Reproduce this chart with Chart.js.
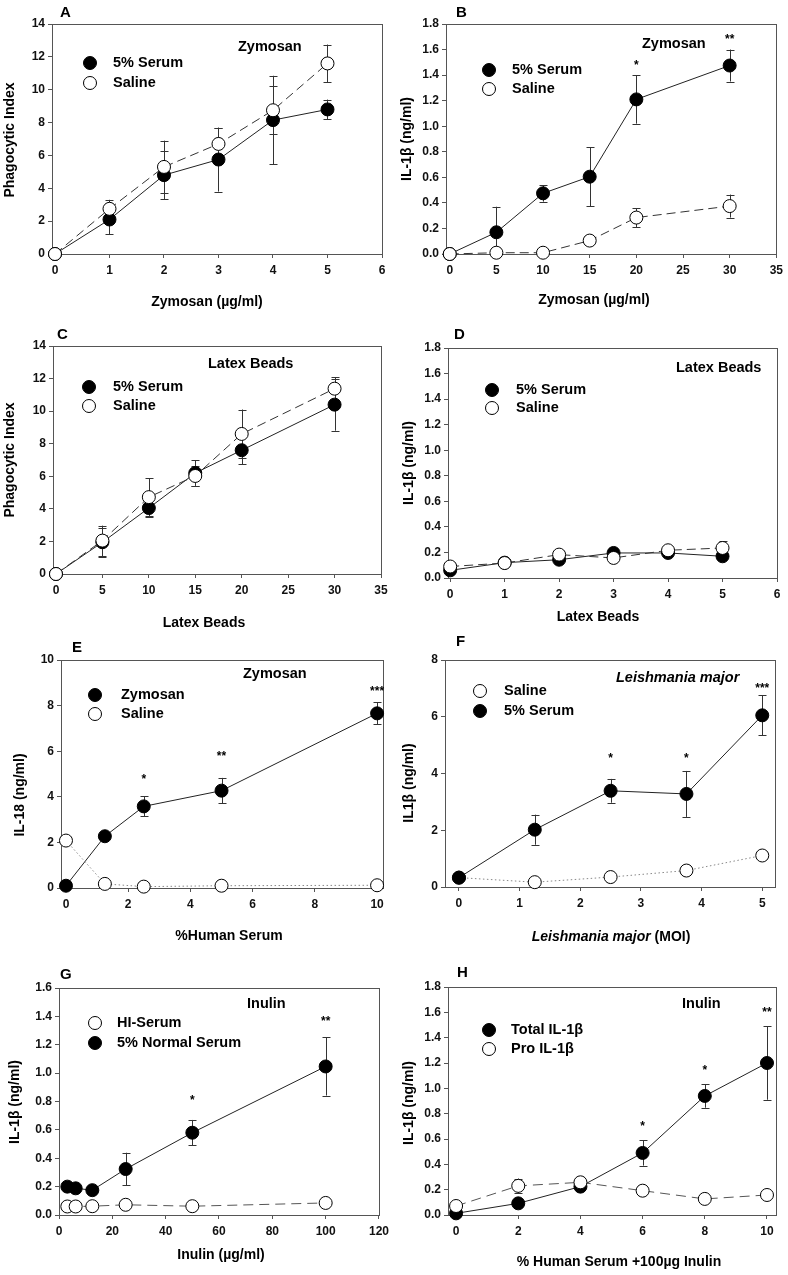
<!DOCTYPE html>
<html><head><meta charset="utf-8">
<script src="https://cdn.jsdelivr.net/npm/chart.js@4.4.0/dist/chart.umd.min.js"></script>
<style>
html,body{margin:0;padding:0;background:#fff;}
body{width:788px;height:1275px;position:relative;overflow:hidden;}
canvas{position:absolute;}
</style></head><body>
<canvas id="cA"></canvas><canvas id="cB"></canvas>
<canvas id="cC"></canvas><canvas id="cD"></canvas>
<canvas id="cE"></canvas><canvas id="cF"></canvas>
<canvas id="cG"></canvas><canvas id="cH"></canvas>
<script>
// ---------------- DATA ----------------
// Panel A
const A_x = [0, 1, 2, 3, 4, 5];
const A_serum = [0, 2.1, 4.8, 5.75, 8.15, 8.8];
const A_serumErr = [0, 0.9, 1.45, 1.95, 2.7, 0.6];
const A_saline = [0, 2.75, 5.3, 6.7, 8.75, 11.6];
const A_salineErr = [0, 0.55, 1.6, 0.95, 1.45, 1.15];
const A_xTicks = [0, 1, 2, 3, 4, 5, 6];
const A_xLabels = ['0', '1', '2', '3', '4', '5', '6'];
const A_yTicks = [0, 2, 4, 6, 8, 10, 12, 14];
const A_yLabels = ['0', '2', '4', '6', '8', '10', '12', '14'];
// Panel B
const B_x = [0, 5, 10, 15, 20, 30];
const B_serum = [0, 0.17, 0.475, 0.605, 1.21, 1.475];
const B_serumErr = [0, 0.2, 0.065, 0.23, 0.19, 0.125];
const B_saline = [0, 0.01, 0.01, 0.105, 0.285, 0.375];
const B_salineErr = [0, 0, 0, 0.02, 0.075, 0.09];
const B_stars = [{x: 20, y: 1.5, t: '*'}, {x: 30, y: 1.71, t: '**'}];
const B_xTicks = [0, 5, 10, 15, 20, 25, 30, 35];
const B_xLabels = ['0', '5', '10', '15', '20', '25', '30', '35'];
const B_yTicks = [0, 0.2, 0.4, 0.6, 0.8, 1.0, 1.2, 1.4, 1.6, 1.8];
const B_yLabels = ['0.0', '0.2', '0.4', '0.6', '0.8', '1.0', '1.2', '1.4', '1.6', '1.8'];
// Panel C
const C_x = [0, 5, 10, 15, 20, 30];
const C_serum = [0, 1.95, 4.05, 6.2, 7.6, 10.4];
const C_serumErr = [0, 0.9, 0.57, 0.78, 0.85, 1.6];
const C_saline = [0, 2.05, 4.72, 6.02, 8.6, 11.38];
const C_salineErr = [0, 0.92, 1.15, 0.6, 1.5, 0.7];
const C_xTicks = [0, 5, 10, 15, 20, 25, 30, 35];
const C_xLabels = ['0', '5', '10', '15', '20', '25', '30', '35'];
const C_yTicks = [0, 2, 4, 6, 8, 10, 12, 14];
const C_yLabels = ['0', '2', '4', '6', '8', '10', '12', '14'];
// Panel D
const D_x = [0, 1, 2, 3, 4, 5];
const D_serum = [0.06, 0.12, 0.143, 0.196, 0.196, 0.17];
const D_serumErr = [0, 0, 0, 0, 0, 0];
const D_saline = [0.09, 0.117, 0.183, 0.157, 0.217, 0.235];
const D_salineErr = [0, 0, 0, 0, 0, 0.052];
const D_xTicks = [0, 1, 2, 3, 4, 5, 6];
const D_xLabels = ['0', '1', '2', '3', '4', '5', '6'];
const D_yTicks = [0, 0.2, 0.4, 0.6, 0.8, 1.0, 1.2, 1.4, 1.6, 1.8];
const D_yLabels = ['0.0', '0.2', '0.4', '0.6', '0.8', '1.0', '1.2', '1.4', '1.6', '1.8'];
// Panel E
const E_x = [0, 1.25, 2.5, 5, 10];
const E_zym = [0.1, 2.27, 3.58, 4.27, 7.66];
const E_zymErr = [0, 0.1, 0.44, 0.56, 0.48];
const E_saline = [2.08, 0.18, 0.06, 0.1, 0.12];
const E_stars = [{x: 2.5, y: 4.92, t: '*'}, {x: 5, y: 5.91, t: '**'}, {x: 10, y: 8.76, t: '***'}];
const E_xTicks = [0, 2, 4, 6, 8, 10];
const E_xLabels = ['0', '2', '4', '6', '8', '10'];
const E_yTicks = [0, 2, 4, 6, 8, 10];
const E_yLabels = ['0', '2', '4', '6', '8', '10'];
// Panel F
const F_x = [0, 1.25, 2.5, 3.75, 5];
const F_saline = [0.33, 0.17, 0.35, 0.58, 1.11];
const F_serum = [0.33, 2.02, 3.39, 3.28, 6.05];
const F_serumErr = [0, 0.53, 0.42, 0.81, 0.7];
const F_stars = [{x: 2.5, y: 4.65, t: '*'}, {x: 3.75, y: 4.65, t: '*'}, {x: 5, y: 7.12, t: '***'}];
const F_xTicks = [0, 1, 2, 3, 4, 5];
const F_xLabels = ['0', '1', '2', '3', '4', '5'];
const F_yTicks = [0, 2, 4, 6, 8];
const F_yLabels = ['0', '2', '4', '6', '8'];
// Panel G
const G_x = [3.125, 6.25, 12.5, 25, 50, 100];
const G_hi = [0.06, 0.06, 0.062, 0.072, 0.062, 0.085];
const G_normal = [0.2, 0.188, 0.175, 0.324, 0.58, 1.047];
const G_normalErr = [0, 0, 0, 0.115, 0.09, 0.205];
const G_stars = [{x: 50, y: 0.835, t: '*'}, {x: 100, y: 1.39, t: '**'}];
const G_xTicks = [0, 20, 40, 60, 80, 100, 120];
const G_xLabels = ['0', '20', '40', '60', '80', '100', '120'];
const G_yTicks = [0, 0.2, 0.4, 0.6, 0.8, 1.0, 1.2, 1.4, 1.6];
const G_yLabels = ['0.0', '0.2', '0.4', '0.6', '0.8', '1.0', '1.2', '1.4', '1.6'];
// Panel H
const H_x = [0, 2, 4, 6, 8, 10];
const H_total = [0.013, 0.092, 0.224, 0.49, 0.94, 1.2];
const H_totalErr = [0, 0, 0, 0.1, 0.093, 0.29];
const H_pro = [0.071, 0.23, 0.258, 0.192, 0.127, 0.158];
const H_proErr = [0, 0.058, 0, 0, 0, 0];
const H_stars = [{x: 6, y: 0.725, t: '*'}, {x: 8, y: 1.17, t: '*'}, {x: 10, y: 1.63, t: '**'}];
const H_xTicks = [0, 2, 4, 6, 8, 10];
const H_xLabels = ['0', '2', '4', '6', '8', '10'];
const H_yTicks = [0, 0.2, 0.4, 0.6, 0.8, 1.0, 1.2, 1.4, 1.6, 1.8];
const H_yLabels = ['0.0', '0.2', '0.4', '0.6', '0.8', '1.0', '1.2', '1.4', '1.6', '1.8'];

// ---------------- LAYOUT / STYLE ----------------
const FONT = "'Liberation Sans', Arial, Helvetica, sans-serif";
const M = 12;
const SOLID = {dash: [], color: '#222'};
const DASH = {dash: [9, 5], color: '#333'};
const DASH2 = {dash: [10, 6], color: '#555'};
const DOT = {dash: [1.5, 2.5], color: '#888'};

const panels = [
  {id: 'cA', x0: 0, y0: 0, h: 320, area: {l: 52, r: 382, t: 24, b: 254},
   xmin: -0.055, xmax: 6, ymin: 0, ymax: 14,
   xTicks: A_xTicks, xLabels: A_xLabels, yTicks: A_yTicks, yLabels: A_yLabels,
   series: [
     {label: '5% Serum', x: A_x, y: A_serum, err: A_serumErr, filled: true, style: SOLID, order: 1},
     {label: 'Saline', x: A_x, y: A_saline, err: A_salineErr, filled: false, style: DASH, order: 0}],
   letter: {t: 'A', x: 60, y: 13}, note: {t: 'Zymosan', x: 238, y: 47},
   legend: [{s: 0, mx: 90, my: 63}, {s: 1, mx: 90, my: 83}], legendTx: 113,
   yTitle: {t: 'Phagocytic Index', x: 10, y: 140},
   xTitle: {parts: [{t: 'Zymosan (µg/ml)'}], x: 207, y: 302}, stars: []},
  {id: 'cB', x0: 394, y0: 0, h: 320, area: {l: 52, r: 383, t: 24, b: 254},
   xmin: -0.4, xmax: 35, ymin: 0, ymax: 1.8,
   xTicks: B_xTicks, xLabels: B_xLabels, yTicks: B_yTicks, yLabels: B_yLabels,
   series: [
     {label: '5% Serum', x: B_x, y: B_serum, err: B_serumErr, filled: true, style: SOLID, order: 1},
     {label: 'Saline', x: B_x, y: B_saline, err: B_salineErr, filled: false, style: DASH, order: 0}],
   letter: {t: 'B', x: 62, y: 13}, note: {t: 'Zymosan', x: 248, y: 44},
   legend: [{s: 0, mx: 95, my: 70}, {s: 1, mx: 95, my: 89}], legendTx: 118,
   yTitle: {t: 'IL-1β (ng/ml)', x: 13, y: 139},
   xTitle: {parts: [{t: 'Zymosan (µg/ml)'}], x: 200, y: 300}, stars: B_stars},
  {id: 'cC', x0: 0, y0: 320, h: 320, area: {l: 53, r: 381, t: 26, b: 254},
   xmin: -0.32, xmax: 35, ymin: 0, ymax: 14,
   xTicks: C_xTicks, xLabels: C_xLabels, yTicks: C_yTicks, yLabels: C_yLabels,
   series: [
     {label: '5% Serum', x: C_x, y: C_serum, err: C_serumErr, filled: true, style: SOLID, order: 1},
     {label: 'Saline', x: C_x, y: C_saline, err: C_salineErr, filled: false, style: DASH, order: 0}],
   letter: {t: 'C', x: 57, y: 15}, note: {t: 'Latex Beads', x: 208, y: 44},
   legend: [{s: 0, mx: 89, my: 67}, {s: 1, mx: 89, my: 86}], legendTx: 113,
   yTitle: {t: 'Phagocytic Index', x: 10, y: 140},
   xTitle: {parts: [{t: 'Latex Beads'}], x: 204, y: 303}, stars: []},
  {id: 'cD', x0: 394, y0: 320, h: 320, area: {l: 54, r: 383, t: 28, b: 258},
   xmin: -0.04, xmax: 6, ymin: 0, ymax: 1.8,
   xTicks: D_xTicks, xLabels: D_xLabels, yTicks: D_yTicks, yLabels: D_yLabels,
   series: [
     {label: '5% Serum', x: D_x, y: D_serum, err: D_serumErr, filled: true, style: SOLID, order: 1},
     {label: 'Saline', x: D_x, y: D_saline, err: D_salineErr, filled: false, style: DASH, order: 0}],
   letter: {t: 'D', x: 60, y: 15}, note: {t: 'Latex Beads', x: 282, y: 48},
   legend: [{s: 0, mx: 98, my: 70}, {s: 1, mx: 98, my: 88}], legendTx: 122,
   yTitle: {t: 'IL-1β (ng/ml)', x: 15, y: 143},
   xTitle: {parts: [{t: 'Latex Beads'}], x: 204, y: 297}, stars: []},
  {id: 'cE', x0: 0, y0: 640, h: 320, area: {l: 61, r: 383, t: 20, b: 248},
   xmin: -0.16, xmax: 10.19, ymin: 0, ymax: 10,
   xTicks: E_xTicks, xLabels: E_xLabels, yTicks: E_yTicks, yLabels: E_yLabels,
   series: [
     {label: 'Zymosan', x: E_x, y: E_zym, err: E_zymErr, filled: true, style: SOLID, order: 1},
     {label: 'Saline', x: E_x, y: E_saline, err: null, filled: false, style: DOT, order: 0}],
   letter: {t: 'E', x: 72, y: 8}, note: {t: 'Zymosan', x: 243, y: 34},
   legend: [{s: 0, mx: 95, my: 55}, {s: 1, mx: 95, my: 74}], legendTx: 121,
   yTitle: {t: 'IL-18 (ng/ml)', x: 20, y: 155},
   xTitle: {parts: [{t: '%Human Serum'}], x: 229, y: 296}, stars: E_stars},
  {id: 'cF', x0: 394, y0: 640, h: 320, area: {l: 51, r: 381, t: 20, b: 247},
   xmin: -0.23, xmax: 5.21, ymin: 0, ymax: 8,
   xTicks: F_xTicks, xLabels: F_xLabels, yTicks: F_yTicks, yLabels: F_yLabels,
   series: [
     {label: 'Saline', x: F_x, y: F_saline, err: null, filled: false, style: DOT, order: 1},
     {label: '5% Serum', x: F_x, y: F_serum, err: F_serumErr, filled: true, style: SOLID, order: 0}],
   letter: {t: 'F', x: 62, y: 2}, note: {t: 'Leishmania major', x: 222, y: 38, italic: true},
   legend: [{s: 0, mx: 86, my: 51}, {s: 1, mx: 86, my: 71}], legendTx: 110,
   yTitle: {t: 'IL1β (ng/ml)', x: 15, y: 143},
   xTitle: {parts: [{t: 'Leishmania major', italic: true}, {t: ' (MOI)'}], x: 217, y: 297}, stars: F_stars},
  {id: 'cG', x0: 0, y0: 960, h: 315, area: {l: 59, r: 382, t: 28, b: 255},
   xmin: 0, xmax: 120, ymin: 0, ymax: 1.6,
   xTicks: G_xTicks, xLabels: G_xLabels, yTicks: G_yTicks, yLabels: G_yLabels,
   series: [
     {label: 'HI-Serum', x: G_x, y: G_hi, err: null, filled: false, style: DASH2, order: 1},
     {label: '5% Normal Serum', x: G_x, y: G_normal, err: G_normalErr, filled: true, style: SOLID, order: 0}],
   letter: {t: 'G', x: 60, y: 15}, note: {t: 'Inulin', x: 247, y: 44},
   legend: [{s: 0, mx: 95, my: 63}, {s: 1, mx: 95, my: 83}], legendTx: 117,
   yTitle: {t: 'IL-1β (ng/ml)', x: 15, y: 142},
   xTitle: {parts: [{t: 'Inulin (µg/ml)'}], x: 221, y: 295}, stars: G_stars},
  {id: 'cH', x0: 394, y0: 960, h: 315, area: {l: 54, r: 382, t: 27, b: 255},
   xmin: -0.26, xmax: 10.29, ymin: 0, ymax: 1.8,
   xTicks: H_xTicks, xLabels: H_xLabels, yTicks: H_yTicks, yLabels: H_yLabels,
   series: [
     {label: 'Total IL-1β', x: H_x, y: H_total, err: H_totalErr, filled: true, style: SOLID, order: 1},
     {label: 'Pro IL-1β', x: H_x, y: H_pro, err: H_proErr, filled: false, style: DASH2, order: 0}],
   letter: {t: 'H', x: 63, y: 13}, note: {t: 'Inulin', x: 288, y: 44},
   legend: [{s: 0, mx: 95, my: 70}, {s: 1, mx: 95, my: 89}], legendTx: 117,
   yTitle: {t: 'IL-1β (ng/ml)', x: 15, y: 143},
   xTitle: {parts: [{t: '% Human Serum +100µg Inulin'}], x: 225, y: 302}, stars: H_stars}
];

function font(size, italic) {
  return (italic ? 'italic ' : '') + 'bold ' + size + 'px ' + FONT;
}

function makePanel(p) {
  const cv = document.getElementById(p.id);
  const W = 394, H = p.h + M;
  cv.width = W; cv.height = H;
  cv.style.left = p.x0 + 'px'; cv.style.top = (p.y0 - M) + 'px';
  cv.style.width = W + 'px'; cv.style.height = H + 'px';
  const a = p.area;
  const tickFont = {family: FONT, size: 12, weight: 'bold'};

  const datasets = p.series.map(s => ({
    label: s.label,
    data: s.x.map((xv, i) => ({x: xv, y: s.y[i]})),
    borderColor: s.style.color,
    borderWidth: 1,
    borderDash: s.style.dash,
    pointRadius: 6.5,
    pointHoverRadius: 6.5,
    pointBackgroundColor: s.filled ? '#000' : '#fff',
    pointBorderColor: '#000',
    pointBorderWidth: 1,
    fill: false,
    tension: 0,
    order: s.order,
    clip: false,
    showLine: true
  }));

  const deco = {
    id: 'deco_' + p.id,
    beforeDatasetsDraw(chart) {
      const ctx = chart.ctx, xs = chart.scales.x, ys = chart.scales.y, ca = chart.chartArea;
      ctx.save();
      // frame
      ctx.strokeStyle = '#555'; ctx.lineWidth = 1;
      ctx.strokeRect(Math.round(ca.left) + 0.5, Math.round(ca.top) + 0.5,
                     Math.round(ca.right - ca.left), Math.round(ca.bottom - ca.top));
      // error bars
      ctx.strokeStyle = '#333';
      p.series.forEach(s => {
        if (!s.err) return;
        s.x.forEach((xv, i) => {
          const e = s.err[i]; if (!e) return;
          const px = Math.round(xs.getPixelForValue(xv)) + 0.5;
          const topRaw = ys.getPixelForValue(s.y[i] + e);
          const botRaw = ys.getPixelForValue(s.y[i] - e);
          const top = Math.max(topRaw, ca.top), bot = Math.min(botRaw, ca.bottom);
          ctx.beginPath();
          ctx.moveTo(px, top); ctx.lineTo(px, bot);
          if (topRaw >= ca.top) { ctx.moveTo(px - 4, Math.round(top) + 0.5); ctx.lineTo(px + 4, Math.round(top) + 0.5); }
          if (botRaw <= ca.bottom) { ctx.moveTo(px - 4, Math.round(bot) + 0.5); ctx.lineTo(px + 4, Math.round(bot) + 0.5); }
          ctx.stroke();
        });
      });
      ctx.restore();
    },
    afterDraw(chart) {
      const ctx = chart.ctx, xs = chart.scales.x, ys = chart.scales.y;
      ctx.save();
      ctx.fillStyle = '#000';
      // stars (data coords)
      ctx.font = font(12, false); ctx.textAlign = 'center'; ctx.textBaseline = 'alphabetic';
      (p.stars || []).forEach(st => {
        ctx.fillText(st.t, xs.getPixelForValue(st.x), ys.getPixelForValue(st.y) + 7);
      });
      ctx.translate(0, M);
      // panel letter
      ctx.font = font(15, false); ctx.textAlign = 'left'; ctx.textBaseline = 'middle';
      ctx.fillText(p.letter.t, p.letter.x, p.letter.y);
      // inline note
      ctx.font = font(14.5, !!p.note.italic);
      ctx.fillText(p.note.t, p.note.x, p.note.y);
      // legend
      p.legend.forEach(L => {
        const s = p.series[L.s];
        ctx.beginPath(); ctx.arc(L.mx, L.my, 6.5, 0, Math.PI * 2);
        ctx.fillStyle = s.filled ? '#000' : '#fff'; ctx.fill();
        ctx.strokeStyle = '#000'; ctx.lineWidth = 1; ctx.stroke();
        ctx.fillStyle = '#000';
        ctx.font = font(14.5, false); ctx.textAlign = 'left'; ctx.textBaseline = 'middle';
        ctx.fillText(s.label, p.legendTx, L.my);
      });
      // x title
      ctx.textBaseline = 'middle'; ctx.textAlign = 'left';
      let total = 0;
      p.xTitle.parts.forEach(pt => { ctx.font = font(14, !!pt.italic); total += ctx.measureText(pt.t).width; });
      let cx = p.xTitle.x - total / 2;
      p.xTitle.parts.forEach(pt => { ctx.font = font(14, !!pt.italic); ctx.fillText(pt.t, cx, p.xTitle.y); cx += ctx.measureText(pt.t).width; });
      // y title
      ctx.save();
      ctx.translate(p.yTitle.x, p.yTitle.y); ctx.rotate(-Math.PI / 2);
      ctx.font = font(14, false); ctx.textAlign = 'center'; ctx.textBaseline = 'middle';
      ctx.fillText(p.yTitle.t, 0, 0);
      ctx.restore();
      ctx.restore();
    }
  };

  new Chart(cv, {
    type: 'line',
    data: {datasets},
    options: {
      responsive: false, animation: false, devicePixelRatio: 1, events: [],
      layout: {padding: {left: 0, right: W - a.r, top: a.t + M, bottom: 0}},
      plugins: {legend: {display: false}, tooltip: {enabled: false}},
      scales: {
        x: {
          type: 'linear', min: p.xmin, max: p.xmax,
          afterBuildTicks: s => { s.ticks = p.xTicks.map(v => ({value: v})); },
          afterFit: s => { s.height = H - (a.b + M); },
          ticks: {callback: (v, i) => p.xLabels[i], font: tickFont, color: '#111', padding: 5,
                  maxRotation: 0, autoSkip: false},
          grid: {display: true, drawOnChartArea: false, drawTicks: true, tickLength: 4, color: '#555'},
          border: {display: false},
          title: {display: false}
        },
        y: {
          type: 'linear', min: p.ymin, max: p.ymax,
          afterBuildTicks: s => { s.ticks = p.yTicks.map(v => ({value: v})); },
          afterFit: s => { s.width = a.l; },
          ticks: {callback: (v, i) => p.yLabels[i], font: tickFont, color: '#111', padding: 3, autoSkip: false},
          grid: {display: true, drawOnChartArea: false, drawTicks: true, tickLength: 4, color: '#555'},
          border: {display: false},
          title: {display: false}
        }
      }
    },
    plugins: [deco]
  });
}

panels.forEach(makePanel);
</script>
</body></html>
